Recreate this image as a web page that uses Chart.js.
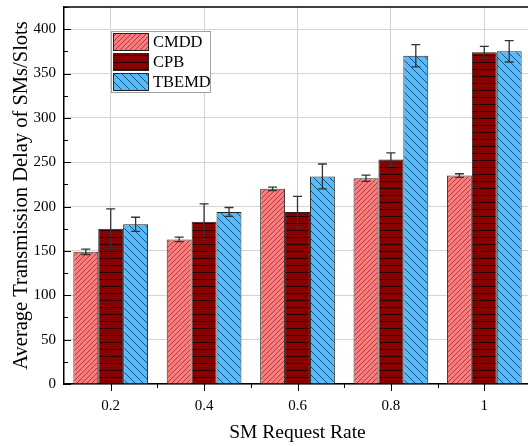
<!DOCTYPE html>
<html><head><meta charset="utf-8">
<script src="https://cdn.jsdelivr.net/npm/chart.js@4"></script>
<style>html,body{margin:0;padding:0;overflow:hidden;background:#fff}</style>
</head><body>
<canvas id="c" width="534" height="447" style="width:534px;height:447px;display:block"></canvas>
<script>
const categories = ['0.2', '0.4', '0.6', '0.8', '1'];
const seriesNames = ['CMDD', 'CPB', 'TBEMD'];
const cmdd = [149, 163, 220, 232, 235];
const cpb = [175, 183, 194, 253, 374];
const tbemd = [180, 194, 234, 370, 375];
const cmddErr = [3, 2.5, 2, 3.5, 2];
const cpbErr = [22.5, 20, 17.5, 7.5, 6.5];
const tbemdErr = [8, 5, 14, 12.5, 12];
const yTickValues = [0, 50, 100, 150, 200, 250, 300, 350, 400];
const xTitle = 'SM Request Rate';
const yTitle = 'Average Transmission Delay of SMs/Slots';

const FONT = "'Liberation Serif', 'Times New Roman', serif";

function hatch(bg, lineColor, s, kind, lw) {
  const c = document.createElement('canvas');
  c.width = s; c.height = s;
  const g = c.getContext('2d');
  g.fillStyle = bg; g.fillRect(0, 0, s, s);
  g.strokeStyle = lineColor; g.lineWidth = lw;
  g.beginPath();
  if (kind === '/') {
    g.moveTo(-1, s + 1); g.lineTo(s + 1, -1);
    g.moveTo(-1, 1); g.lineTo(1, -1);
    g.moveTo(s - 1, s + 1); g.lineTo(s + 1, s - 1);
  } else if (kind === '\\') {
    g.moveTo(-1, -1); g.lineTo(s + 1, s + 1);
    g.moveTo(s - 1, -1); g.lineTo(s + 1, 1);
    g.moveTo(-1, s - 1); g.lineTo(1, s + 1);
  } else {
    g.moveTo(0, s - 0.5); g.lineTo(s, s - 0.5);
  }
  g.stroke();
  return g.createPattern(c, 'repeat');
}

const pCMDD = hatch('#ff7b7b', 'rgba(90,30,30,0.75)', 5, '/', 0.8);
const pCPB = hatch('#880000', '#2a0000', 7, '-', 1);
const pTBEMD = hatch('#55bbff', '#1d4f75', 8, '\\', 1);

const errs = [cmddErr, cpbErr, tbemdErr];

const errorBars = {
  id: 'errorBars',
  afterDatasetsDraw(chart) {
    const ctx = chart.ctx, ys = chart.scales.y;
    ctx.save();
    ctx.strokeStyle = '#333';
    ctx.lineWidth = 1.3;
    chart.data.datasets.forEach((ds, i) => {
      const meta = chart.getDatasetMeta(i);
      meta.data.forEach((el, j) => {
        const v = ds.data[j], e = errs[i][j];
        const y1 = ys.getPixelForValue(v + e), y2 = ys.getPixelForValue(v - e);
        const x = el.x;
        ctx.beginPath();
        ctx.moveTo(x, y1); ctx.lineTo(x, y2);
        ctx.moveTo(x - 4.5, y1); ctx.lineTo(x + 4.5, y1);
        ctx.moveTo(x - 4.5, y2); ctx.lineTo(x + 4.5, y2);
        ctx.stroke();
      });
    });
    ctx.restore();
  }
};

const frameTicks = {
  id: 'frameTicks',
  afterDraw(chart) {
    const ctx = chart.ctx, a = chart.chartArea, ys = chart.scales.y, xs = chart.scales.x;
    ctx.save();
    ctx.strokeStyle = '#000';
    ctx.lineWidth = 1.5;
    ctx.beginPath();
    ctx.moveTo(a.left, a.top); ctx.lineTo(a.right, a.top); ctx.lineTo(a.right, a.bottom);
    ctx.stroke();
    ctx.lineWidth = 1;
    ctx.beginPath();
    for (let v = 0; v <= ys.max; v += 25) {
      const y = Math.round(ys.getPixelForValue(v)) + 0.5;
      const len = v % 50 === 0 ? 7 : 4;
      ctx.moveTo(a.left, y); ctx.lineTo(a.left + len, y);
    }
    const n = chart.data.labels.length;
    for (let i = 0; i < n; i++) {
      const x = Math.round(xs.getPixelForValue(i)) + 0.5;
      ctx.moveTo(x, a.bottom); ctx.lineTo(x, a.bottom + 7);
      const xb = Math.round(xs.getPixelForValue(i + 0.5)) + 0.5;
      ctx.moveTo(xb, a.bottom); ctx.lineTo(xb, a.bottom + 4);
    }
    ctx.stroke();
    ctx.restore();
  }
};

const legendBox = {
  id: 'legendBox',
  afterDraw(chart) {
    const ctx = chart.ctx;
    const bx = 111, by = 31, bw = 99, bh = 61;
    ctx.save();
    ctx.fillStyle = '#fff';
    ctx.fillRect(bx, by, bw, bh);
    ctx.strokeStyle = '#a0a0a0';
    ctx.lineWidth = 1;
    ctx.strokeRect(bx + 0.5, by + 0.5, bw, bh);
    ctx.font = '16.5px ' + FONT;
    ctx.textBaseline = 'middle';
    chart.data.datasets.forEach((ds, i) => {
      const sy = by + 2 + i * 20;
      ctx.fillStyle = ds.backgroundColor;
      ctx.fillRect(bx + 2, sy, 36, 18);
      ctx.strokeStyle = '#222';
      ctx.strokeRect(bx + 2.5, sy + 0.5, 35, 17);
      ctx.fillStyle = '#000';
      ctx.fillText(ds.label, bx + 42, sy + 10);
    });
    ctx.restore();
  }
};

function zeroPad(s) { s.paddingTop = 0; s.paddingBottom = 0; s.paddingLeft = 0; s.paddingRight = 0; }

new Chart(document.getElementById('c'), {
  type: 'bar',
  data: {
    labels: categories,
    datasets: [
      { label: seriesNames[0], data: cmdd, backgroundColor: pCMDD, borderColor: '#333', borderWidth: 1 },
      { label: seriesNames[1], data: cpb, backgroundColor: pCPB, borderColor: '#222', borderWidth: 1 },
      { label: seriesNames[2], data: tbemd, backgroundColor: pTBEMD, borderColor: '#222', borderWidth: 1 }
    ]
  },
  options: {
    responsive: false,
    animation: false,
    devicePixelRatio: 1,
    layout: { padding: { top: 7, right: 3, left: 0, bottom: 0 } },
    datasets: { bar: { categoryPercentage: 0.8, barPercentage: 1.0 } },
    plugins: { legend: { display: false }, tooltip: { enabled: false } },
    scales: {
      x: {
        offset: true,
        grid: { offset: false, color: '#d4d4d4', drawTicks: false },
        border: { color: '#000', width: 1.5 },
        ticks: { color: '#000', font: { family: FONT, size: 15 }, padding: 13 },
        title: { display: true, text: xTitle, color: '#000', font: { family: FONT, size: 19.5 }, padding: { top: 0, bottom: 2 } },
        afterFit: s => { s.height = 63; zeroPad(s); }
      },
      y: {
        min: 0, max: 425,
        grid: { color: '#d4d4d4', drawTicks: false },
        border: { color: '#000', width: 1.5 },
        afterBuildTicks: s => { s.ticks = yTickValues.map(v => ({ value: v })); },
        ticks: { color: '#000', font: { family: FONT, size: 15 }, padding: 8 },
        title: { display: true, text: yTitle, color: '#000', font: { family: FONT, size: 20.5 }, padding: { top: 9, bottom: 0 } },
        afterFit: s => { s.width = 64; zeroPad(s); }
      }
    }
  },
  plugins: [errorBars, frameTicks, legendBox]
});
</script>
</body></html>
